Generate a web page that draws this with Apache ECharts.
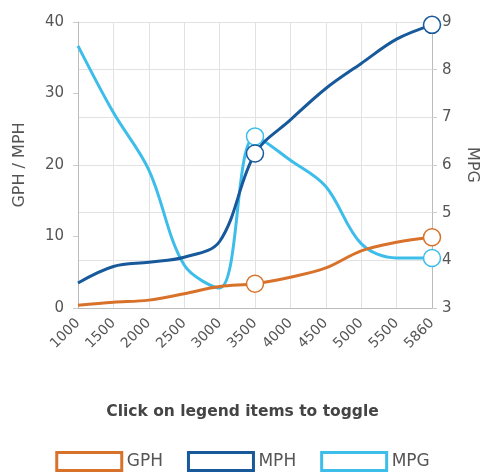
<!DOCTYPE html>
<html>
<head>
<meta charset="utf-8">
<script src="https://cdn.jsdelivr.net/npm/echarts@6/dist/echarts.min.js"></script>
<style>
html,body{margin:0;padding:0;background:#fff;}
#c{width:485px;height:475px;}
</style>
</head>
<body>
<div id="c"></div>
<script>
var categories = ['1000','1500','2000','2500','3000','3500','4000','4500','5000','5500','5860'];
var gph = [0.4, 0.8, 1.1, 2.0, 3.0, 3.4, 4.3, 5.6, 8.0, 9.2, 9.9];
var mph = [3.5, 5.8, 6.4, 7.1, 9.3, 21.6, 26.3, 30.7, 34.2, 37.6, 39.6];
var mpg = [8.5, 7.1, 5.9, 3.9, 3.42, 6.6, 6.1, 5.55, 4.35, 4.05, 4.05];
var markedIndex = [5, 10];
var leftTicks = {min: 0, max: 40, interval: 10};
var rightTicks = {min: 3, max: 9, interval: 1};

var colors = {GPH: '#D8722A', MPH: '#17599B', MPG: '#3DBDEA'};
var font = 'DejaVu Sans';

function withMarkers(values, color) {
  return values.map(function (v, i) {
    if (markedIndex.indexOf(i) >= 0) {
      return {value: v, symbol: 'circle', symbolSize: 17,
        itemStyle: {color: '#fff', borderColor: color, borderWidth: 1.5}};
    }
    return {value: v, symbol: 'none'};
  });
}

function lineSeries(name, values, axis) {
  return {
    name: name, type: 'line', yAxisIndex: axis, smooth: 0.35,
    symbol: 'none', showSymbol: true,
    lineStyle: {width: 3, color: colors[name]},
    itemStyle: {color: colors[name]},
    data: withMarkers(values, colors[name]),
    z: name === 'GPH' ? 3 : (name === 'MPH' ? 4 : 2)
  };
}

var chart = echarts.init(document.getElementById('c'), null, {renderer: 'canvas'});
chart.setOption({
  backgroundColor: '#fff',
  animation: false,
  title: {
    text: 'Click on legend items to toggle',
    left: 'center', top: 399,
    textStyle: {fontFamily: font, fontSize: 15.5, fontWeight: 'bold', color: '#444'}
  },
  legend: {
    top: 446, left: 'center',
    icon: 'rect', itemWidth: 65, itemHeight: 18, itemGap: 24,
    textStyle: {fontFamily: font, fontSize: 17, color: '#555'},
    data: ['GPH', 'MPH', 'MPG'].map(function (n) {
      return {name: n, icon: 'rect', itemStyle: {color: '#fff', borderColor: colors[n], borderWidth: 3}};
    })
  },
  grid: {left: 78, right: 53, top: 22, bottom: 167, containLabel: false, outerBoundsMode: 'none'},
  xAxis: {
    type: 'category', data: categories, boundaryGap: false,
    axisLine: {lineStyle: {color: '#bbb'}},
    axisTick: {show: false},
    axisLabel: {rotate: 45, margin: 13, fontFamily: font, fontSize: 14, color: '#555', interval: 0},
    splitLine: {show: true, lineStyle: {color: '#e2e2e2'}}
  },
  yAxis: [{
    type: 'value', min: leftTicks.min, max: leftTicks.max, interval: leftTicks.interval,
    name: 'GPH / MPH', nameLocation: 'middle', nameGap: 50,
    nameTextStyle: {fontFamily: font, fontSize: 16, color: '#555'},
    axisLine: {show: true, lineStyle: {color: '#bbb'}},
    axisTick: {show: true, length: 5, lineStyle: {color: '#ccc'}},
    axisLabel: {margin: 14, fontFamily: font, fontSize: 15, color: '#555'},
    splitLine: {show: false}
  }, {
    type: 'value', min: rightTicks.min, max: rightTicks.max, interval: rightTicks.interval,
    position: 'right',
    name: 'MPG', nameLocation: 'middle', nameGap: 32, nameRotate: -90,
    nameTextStyle: {fontFamily: font, fontSize: 16, color: '#555'},
    axisLine: {show: true, lineStyle: {color: '#bbb'}},
    axisTick: {show: true, length: 5, lineStyle: {color: '#ccc'}},
    axisLabel: {margin: 10, fontFamily: font, fontSize: 15, color: '#555'},
    splitLine: {show: true, lineStyle: {color: '#e2e2e2'}}
  }],
  series: [
    lineSeries('GPH', gph, 0),
    lineSeries('MPH', mph, 0),
    lineSeries('MPG', mpg, 1)
  ]
});
</script>
</body>
</html>
